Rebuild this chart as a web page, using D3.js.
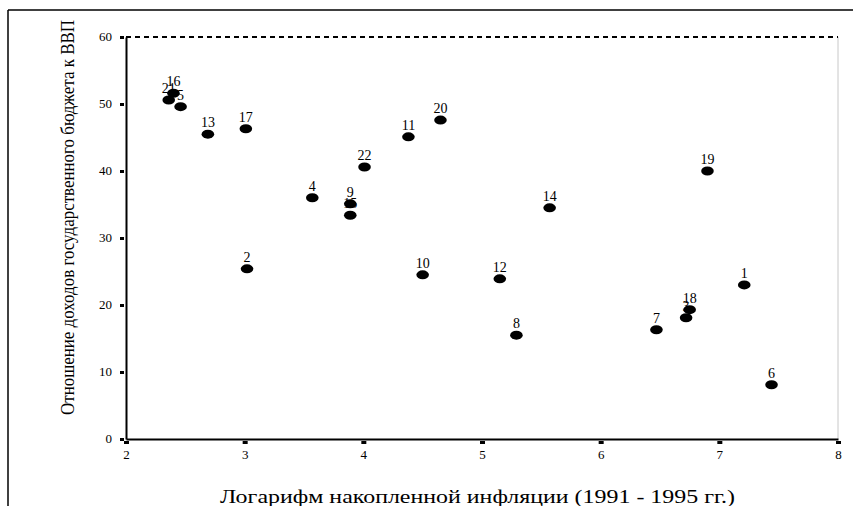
<!DOCTYPE html>
<html lang="ru">
<head>
    <meta charset="UTF-8">
    <title>Scatter</title>
    <script src="https://d3js.org/d3.v7.min.js"></script>
    <style>
        body { margin: 0; background: #fff; }
        svg text { font-family: "Liberation Serif", "Times New Roman", serif; fill: #000; }
        .pt-label { font-size: 14px; text-anchor: middle; }
        .title { font-size: 18px; }
    </style>
</head>
<body>
    <div id="chart"></div>
    <script>
        // point numbers, x = log of cumulative inflation, y = revenue / GDP
        const ids = [21, 16, 5, 13, 17, 2, 4, 9, 15, 22, 11, 10, 20, 12, 8, 14, 7, 3, 18, 19, 1, 6];
        const xVals = [2.36, 2.40, 2.46, 2.69, 3.01, 3.02, 3.57, 3.89, 3.89, 4.01, 4.38, 4.50, 4.65, 5.15, 5.29, 5.57, 6.47, 6.72, 6.75, 6.90, 7.21, 7.44];
        const yVals = [50.6, 51.6, 49.6, 45.5, 46.3, 25.4, 36.0, 35.1, 33.4, 40.6, 45.1, 24.5, 47.6, 23.9, 15.5, 34.5, 16.3, 18.1, 19.3, 40.0, 23.0, 8.1];
        const xTicks = [2, 3, 4, 5, 6, 7, 8];
        const yTicks = [0, 10, 20, 30, 40, 50, 60];

        const W = 853, H = 506;
        const margin = { left: 126, top: 37, right: 15, bottom: 67 };
        const innerW = W - margin.left - margin.right;
        const innerH = H - margin.top - margin.bottom;

        const svg = d3.select("#chart").append("svg")
            .attr("width", W)
            .attr("height", H);

        // outer frame (top and left)
        svg.append("line").attr("x1", 8).attr("x2", W).attr("y1", 10).attr("y2", 10)
            .attr("stroke", "#000").attr("stroke-width", 1.5);
        svg.append("line").attr("x1", 8).attr("x2", 8).attr("y1", 10).attr("y2", H)
            .attr("stroke", "#000").attr("stroke-width", 1.5);

        const g = svg.append("g").attr("transform", `translate(${margin.left},${margin.top})`);

        const x = d3.scaleLinear().domain([2, 8]).range([0, innerW]);
        const y = d3.scaleLinear().domain([0, 60]).range([innerH, 0]);

        // right border, thin gray
        g.append("line").attr("x1", innerW).attr("x2", innerW).attr("y1", 0).attr("y2", innerH)
            .attr("stroke", "#c8c8c8").attr("stroke-width", 1);

        // dashed top border
        g.append("line").attr("x1", 0).attr("x2", innerW).attr("y1", 0).attr("y2", 0)
            .attr("stroke", "#000").attr("stroke-width", 2).attr("stroke-dasharray", "5,4");

        // y axis
        const yAxis = g.append("g")
            .call(d3.axisLeft(y).tickValues(yTicks).tickFormat(d3.format("d")).tickSize(0).tickPadding(14));
        yAxis.select(".domain").attr("stroke-width", 2);
        yAxis.selectAll(".tick text")
            .style("font-size", "13px")
            .style("font-family", "'Liberation Serif', serif")
            .attr("dy", "0.3em");
        yAxis.selectAll(".tick").append("rect")
            .attr("x", -6).attr("y", -1.5).attr("width", 4).attr("height", 3).attr("fill", "#000");

        // x axis
        const xAxis = g.append("g")
            .attr("transform", `translate(0,${innerH})`)
            .call(d3.axisBottom(x).tickValues(xTicks).tickFormat(d3.format("d")).tickSize(0).tickPadding(11));
        xAxis.select(".domain").attr("stroke-width", 2);
        xAxis.selectAll(".tick text")
            .style("font-size", "13px")
            .style("font-family", "'Liberation Serif', serif");
        xAxis.selectAll(".tick").append("rect")
            .attr("x", -2.5).attr("y", 2).attr("width", 5).attr("height", 3).attr("fill", "#000");

        const pts = ids.map((id, i) => ({ id: id, x: xVals[i], y: yVals[i] }));

        g.selectAll(".pt")
            .data(pts)
            .enter()
            .append("ellipse")
            .attr("class", "pt")
            .attr("cx", d => x(d.x))
            .attr("cy", d => y(d.y))
            .attr("rx", 6.3)
            .attr("ry", 4.5)
            .attr("fill", "#000");

        g.selectAll(".pt-label")
            .data(pts)
            .enter()
            .append("text")
            .attr("class", "pt-label")
            .attr("x", d => x(d.x))
            .attr("y", d => y(d.y) - 7)
            .text(d => d.id);

        // axis titles
        svg.append("text")
            .attr("class", "title")
            .attr("x", 220).attr("y", 503)
            .attr("textLength", 515)
            .attr("lengthAdjust", "spacingAndGlyphs")
            .text("Логарифм накопленной инфляции (1991 - 1995 гг.)");

        svg.append("text")
            .attr("class", "title")
            .attr("transform", "translate(74,415) rotate(-90)")
            .attr("textLength", 395)
            .attr("lengthAdjust", "spacingAndGlyphs")
            .text("Отношение доходов государственного бюджета к ВВП");
    </script>
</body>
</html>
